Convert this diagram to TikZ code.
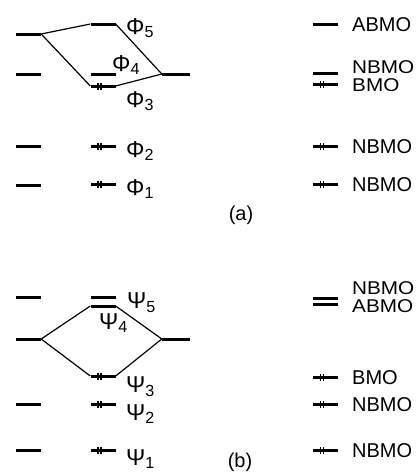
\documentclass[tikz,border=0pt]{standalone}
\usepackage{fontspec}
\setmainfont{Liberation Sans}
\usetikzlibrary{positioning}
\tikzset{
    level/.style={
        rectangle,
        fill=black,
        inner sep=0pt,
        minimum width=25pt,
        minimum height=3pt
    },
    orbital/.style={
        font=\fontsize{23}{23}\selectfont,
        inner sep=0pt,
        anchor=west
    },
    kind/.style={
        font=\fontsize{20}{20}\selectfont,
        inner sep=0pt,
        text depth=0pt,
        anchor=west
    },
    tight/.style={
        kind,
        font=\fontsize{18.5}{18.5}\selectfont\addfontfeature{FakeStretch=1.12}
    },
    mix/.style={
        draw=black,
        line width=1.2pt
    },
    spin/.style={
        draw=black,
        line width=1.1pt
    }
}
% two electrons on a level
\newcommand{\epair}[1]{%
  \draw[spin] ([xshift=-5pt]#1.center) +(0,-3.5pt) -- +(0,3.5pt);
  \draw[spin] ([xshift=-2pt]#1.center) +(0,-3.5pt) -- +(0,3.5pt);
}

\begin{document}
\begin{tikzpicture}[x=1pt,y=-1pt]
\useasboundingbox (0,0) rectangle (420,472);

% (a) left column
\node[level] (la1) at (28.5,185) {};
\node[level] (la2) at (28.5,146) {};
\node[level] (la3) at (28.5,74) {};
\node[level] (la4) at (28.5,34) {};

% (a) middle column
\node[level] (p1) at (103,184) {};
\node[level] (p2) at (103,146) {};
\node[level] (p3) at (103,86) {};
\node[level] (p4) at (103,74.5) {};
\node[level] (p5) at (103,24) {};
\epair{p1}
\epair{p2}
\epair{p3}

% (a) right fragment
\node[level, minimum width=28pt] (ra) at (176,74) {};

\draw[mix] (la4.east) -- (p5.west);
\draw[mix] (p5.east) -- (ra.west);
\draw[mix] (la4.east) -- (p3.west);
\draw[mix] (p3.east) -- (ra.west);

\node[orbital] (p5lab) at (126,28) {Φ\textsubscript{5}};
\node[orbital] (p4lab) at (112,65) {Φ\textsubscript{4}};
\node[orbital] (p3lab) at (126,101) {Φ\textsubscript{3}};
\node[orbital] (p2lab) at (126,151) {Φ\textsubscript{2}};
\node[orbital] (p1lab) at (126,189) {Φ\textsubscript{1}};

% (a) classification
\node[level] (ma5) at (325.5,24) {};
\node[level] (ma4) at (325.5,73) {};
\node[level] (ma3) at (325.5,84) {};
\node[level] (ma2) at (325.5,146) {};
\node[level] (ma1) at (325.5,184) {};
\epair{ma3}
\epair{ma2}
\epair{ma1}

\node[kind] (ka5) at (352,25) {ABMO};
\node[tight] (ka4) at (352,67.5) {NBMO};
\node[tight] (ka3) at (352,85.5) {BMO};
\node[kind] (ka2) at (352,147) {NBMO};
\node[kind] (ka1) at (352,185) {NBMO};

\node[kind, anchor=center] (tagA) at (241,213) {(a)};

% (b) left column
\node[level] (lb1) at (28.5,450) {};
\node[level] (lb2) at (28.5,404) {};
\node[level] (lb3) at (28.5,339) {};
\node[level] (lb4) at (28.5,297) {};

% (b) middle column
\node[level] (s1) at (103,450) {};
\node[level] (s2) at (103,404) {};
\node[level] (s3) at (103,376) {};
\node[level] (s4) at (103,306) {};
\node[level] (s5) at (103,297) {};
\epair{s1}
\epair{s2}
\epair{s3}

% (b) right fragment
\node[level, minimum width=28pt] (rb) at (176,339) {};

\draw[mix] (lb3.east) -- (s4.west);
\draw[mix] (s4.east) -- (rb.west);
\draw[mix] (lb3.east) -- (s3.west);
\draw[mix] (s3.east) -- (rb.west);

\node[orbital] (s5lab) at (127,303) {Ψ\textsubscript{5}};
\node[orbital] (s4lab) at (99,323) {Ψ\textsubscript{4}};
\node[orbital] (s3lab) at (126,387) {Ψ\textsubscript{3}};
\node[orbital] (s2lab) at (126,414) {Ψ\textsubscript{2}};
\node[orbital] (s1lab) at (126,459) {Ψ\textsubscript{1}};

% (b) classification
\node[level] (mb5) at (325.5,298) {};
\node[level] (mb4) at (325.5,304.5) {};
\node[level] (mb3) at (325.5,377) {};
\node[level] (mb2) at (325.5,404) {};
\node[level] (mb1) at (325.5,450) {};
\epair{mb3}
\epair{mb2}
\epair{mb1}

\node[tight] (kb5) at (352,288) {NBMO};
\node[tight] (kb4) at (352,306.5) {ABMO};
\node[kind] (kb3) at (352,378) {BMO};
\node[kind] (kb2) at (352,405) {NBMO};
\node[kind] (kb1) at (352,451) {NBMO};

\node[kind, anchor=center] (tagB) at (240,460) {(b)};

\end{tikzpicture}
\end{document}
